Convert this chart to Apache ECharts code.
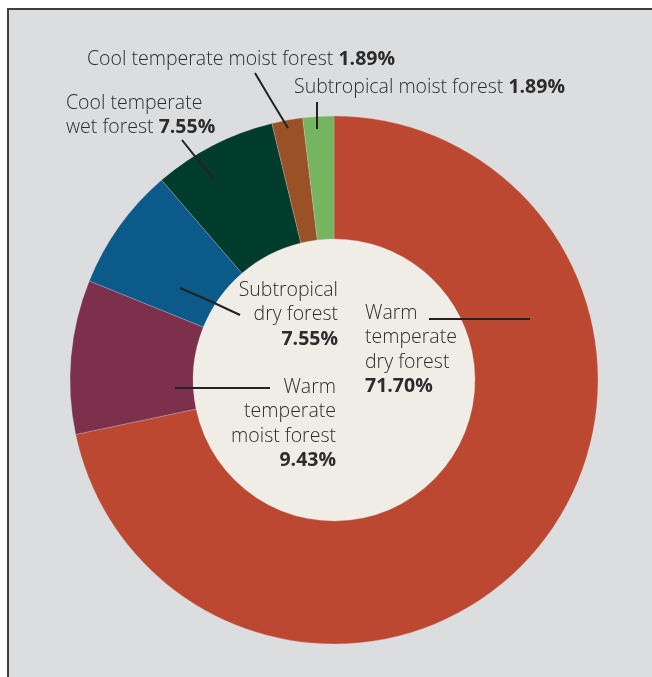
<!DOCTYPE html>
<html><head><meta charset="utf-8">
<script src="https://cdn.jsdelivr.net/npm/echarts@6/dist/echarts.min.js"></script>
<style>html,body{margin:0;padding:0;background:#fff}#c{width:652px;height:677px}</style>
</head><body><div id="c"></div>
<script>
const categories = ['Warm temperate dry forest','Warm temperate moist forest','Subtropical dry forest','Cool temperate wet forest','Cool temperate moist forest','Subtropical moist forest'];
const shares = [71.70, 9.43, 7.55, 7.55, 1.89, 1.89];
const labelTexts = [
  ['Warm','temperate','dry forest'],
  ['Warm','temperate','moist forest'],
  ['Subtropical','dry forest'],
  ['Cool temperate','wet forest'],
  ['Cool temperate moist forest'],
  ['Subtropical moist forest']
];
const colors = ['#bd4831','#7c304c','#0b5a8a','#003c2c','#9a5126','#75b560'];

// layout (pixel) for labels and leader lines (first point on slice, last near label)
const labelLayouts = [
  {x:365, y:313, align:'left',  mode:'stack', line:[[530,319],[480,319],[429,319]]},
  {x:336, y:387, align:'right', mode:'stack', line:[[175,388],[222,388],[270,388]]},
  {x:338, y:290, align:'right', mode:'stack', line:[[180,288],[210,301],[240,315]]},
  {x:66,  y:103, align:'left',  mode:'inlineLast', line:[[214,179],[198,160],[182,140]]},
  {x:87,  y:59,  align:'left',  mode:'inline', line:[[288,128],[271,100],[255,73]]},
  {x:294, y:87,  align:'left',  mode:'inline', line:[[317,129],[317,115],[317,102]]}
];
const LH = 24.5;
const FONT = '"Open Sans", Lato, sans-serif';

function fmtLabel(i){
  const t = labelTexts[i], pct = shares[i].toFixed(2) + '%';
  const m = labelLayouts[i].mode;
  if (m === 'stack') return t.map(s => '{n|' + s + '}').join('\n') + '\n{b|' + pct + '}';
  if (m === 'inline') return '{n|' + t[0] + ' }{b|' + pct + '}';
  return t.slice(0, -1).map(s => '{n|' + s + '}').join('\n') + '\n{n|' + t[t.length-1] + ' }{b|' + pct + '}';
}

const chart = echarts.init(document.getElementById('c'), null, {renderer:'canvas'});
const rich = {
  n:{fontFamily:FONT, fontSize:19.5, fontWeight:300, color:'#2b2b2b', lineHeight:LH},
  b:{fontFamily:FONT, fontSize:19.5, fontWeight:'bold', color:'#2b2b2b', lineHeight:LH}
};
chart.setOption({
  backgroundColor:'#ffffff',
  animation:false,
  graphic:[{type:'rect', z:-10, shape:{x:8, y:9, width:700, height:700}, style:{fill:'#dcdddf', stroke:'#3f3f3f', lineWidth:2}}],
  series:[
    {type:'pie', silent:true, center:[334,380], radius:[0,141], label:{show:false}, labelLine:{show:false},
     data:[{value:1, itemStyle:{color:'#f0ede7'}}], z:1},
    {type:'pie', silent:true, center:[334,380], radius:[141,264], startAngle:90, clockwise:true, z:2,
     itemStyle:{borderColor:'rgba(220,221,223,0.5)', borderWidth:0.5},
     label:{show:false}, labelLine:{show:false},
     data: categories.map((c,i)=>({name:c, value:shares[i], itemStyle:{color:colors[i]}}))},
    {type:'pie', silent:true, center:[334,380], radius:[141,264], startAngle:90, clockwise:true, z:3,
     itemStyle:{color:'rgba(0,0,0,0)', borderWidth:0},
     data: categories.map((c,i)=>({name:c, value:shares[i],
        label:{align:labelLayouts[i].align, rich:{
          n:Object.assign({}, rich.n, {align:labelLayouts[i].align}),
          b:Object.assign({}, rich.b, {align:labelLayouts[i].align})}}})),
     label:{show:true, position:'outside', overflow:'none', width:400, formatter:p=>fmtLabel(p.dataIndex), rich:rich},
     labelLine:{show:true, minTurnAngle:0, maxSurfaceAngle:180, lineStyle:{color:'#222', width:2}},
     labelLayout:function(p){
       const L = labelLayouts[p.dataIndex];
       return {x:L.x, y:L.y - LH/2, align:L.align, verticalAlign:'top', labelLinePoints:L.line};
     }
    }
  ]
});
</script></body></html>
